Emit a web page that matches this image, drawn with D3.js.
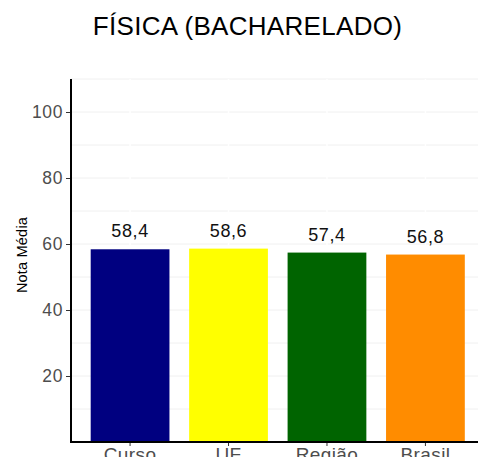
<!DOCTYPE html>
<html>
<head>
<meta charset="utf-8">
<script src="https://cdn.jsdelivr.net/npm/d3@7"></script>
<style>
  html, body { margin: 0; padding: 0; background: #fff; }
  text { font-family: "Liberation Sans", Arial, Helvetica, sans-serif; }
</style>
</head>
<body>
<div id="chart"></div>
<script>
const categories = ["Curso", "UF", "Região", "Brasil"];
const values = [58.4, 58.6, 57.4, 56.8];
const barColors = ["#000080", "#ffff00", "#006400", "#ff8c00"];
const yTicks = [20, 40, 60, 80, 100];
const gridValues = [10, 20, 30, 40, 50, 60, 70, 80, 90, 100, 110];
const title = "FÍSICA (BACHARELADO)";
const yTitle = "Nota Média";

const width = 478, height = 457;
const plotLeft = 71, plotRight = 484.5, plotTop = 79, plotBottom = 442;

const svg = d3.select("#chart").append("svg")
    .attr("width", width)
    .attr("height", height);

const x = d3.scaleBand()
    .domain(categories)
    .range([plotLeft, plotRight])
    .paddingInner(0.2)
    .paddingOuter(0.2);

const y = d3.scaleLinear()
    .domain([0, 110])
    .range([plotBottom, plotTop]);

// grid
svg.append("g")
    .selectAll("line")
    .data(gridValues).enter()
    .append("line")
        .attr("x1", plotLeft).attr("x2", width)
        .attr("y1", function(d) { return y(d); })
        .attr("y2", function(d) { return y(d); })
        .attr("stroke", "#f0f0f0")
        .attr("stroke-width", 1);

svg.append("g")
    .selectAll("line")
    .data(categories).enter()
    .append("line")
        .attr("x1", function(d) { return x(d) + x.bandwidth() / 2; })
        .attr("x2", function(d) { return x(d) + x.bandwidth() / 2; })
        .attr("y1", plotTop).attr("y2", plotBottom)
        .attr("stroke", "#fff")
        .attr("stroke-width", 1.5);

// bars
const data = categories.map(function(c, i) {
    return { name: c, value: values[i], color: barColors[i] };
});

svg.append("g")
    .selectAll("rect")
    .data(data).enter()
    .append("rect")
        .attr("x", function(d) { return x(d.name); })
        .attr("y", function(d) { return y(d.value); })
        .attr("width", x.bandwidth())
        .attr("height", function(d) { return y(0) - y(d.value); })
        .attr("fill", function(d) { return d.color; });

svg.append("g")
    .selectAll("text")
    .data(data).enter()
    .append("text")
        .attr("x", function(d) { return x(d.name) + x.bandwidth() / 2; })
        .attr("y", function(d) { return y(d.value) - 12; })
        .attr("text-anchor", "middle")
        .attr("font-size", 18)
        .attr("letter-spacing", 0.6)
        .attr("fill", "#111")
        .text(function(d) { return d.value.toFixed(1).replace(".", ","); });

// axes
const yAxis = svg.append("g")
    .attr("transform", `translate(${plotLeft},0)`)
    .call(d3.axisLeft(y).tickValues(yTicks).tickSize(5).tickPadding(3));
yAxis.select(".domain").remove();
yAxis.selectAll("line").attr("stroke", "#333");
yAxis.selectAll("text")
    .attr("font-size", 17.5)
    .attr("letter-spacing", 0.6)
    .attr("fill", "#4d4d4d")
    .attr("font-family", "Liberation Sans, Arial, sans-serif");

const xAxis = svg.append("g")
    .attr("transform", `translate(0,${plotBottom})`)
    .call(d3.axisBottom(x).tickSize(4).tickPadding(2));
xAxis.select(".domain").remove();
xAxis.selectAll("line").attr("stroke", "#333");
xAxis.selectAll("text")
    .attr("font-size", 19)
    .attr("letter-spacing", 0.4)
    .attr("fill", "#4d4d4d")
    .attr("font-family", "Liberation Sans, Arial, sans-serif");

svg.append("line")
    .attr("x1", plotLeft).attr("x2", plotLeft)
    .attr("y1", plotTop).attr("y2", plotBottom + 1)
    .attr("stroke", "#000").attr("stroke-width", 2);
svg.append("line")
    .attr("x1", plotLeft - 1).attr("x2", width)
    .attr("y1", plotBottom).attr("y2", plotBottom)
    .attr("stroke", "#000").attr("stroke-width", 2);

// titles
svg.append("text")
    .attr("x", 247.5)
    .attr("y", 35)
    .attr("text-anchor", "middle")
    .attr("font-size", 26)
    .attr("letter-spacing", 0.3)
    .attr("fill", "#000")
    .text(title);

svg.append("text")
    .attr("transform", "translate(26.5,255) rotate(-90)")
    .attr("text-anchor", "middle")
    .attr("font-size", 14.5)
    .attr("letter-spacing", 0.2)
    .attr("fill", "#000")
    .text(yTitle);
</script>
</body>
</html>
